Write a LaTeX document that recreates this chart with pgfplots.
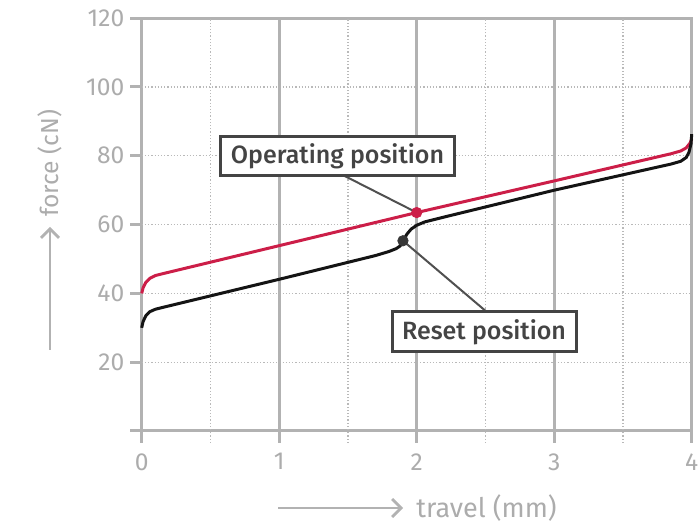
\documentclass[border=0pt]{standalone}
\usepackage{fontspec}
\setmainfont{Fira Sans}
\newfontfamily\medfont{Fira Sans Medium}
\usepackage{pgfplots}
\pgfplotsset{compat=1.18}
\usetikzlibrary{arrows.meta}

\definecolor{axisgray}{RGB}{178,178,178}
\definecolor{labgray}{RGB}{172,172,172}
\definecolor{dotgray}{RGB}{185,185,185}
\definecolor{curvered}{RGB}{204,30,72}
\definecolor{curveblack}{RGB}{20,20,20}
\definecolor{boxgray}{RGB}{68,68,68}
\definecolor{leadgray}{RGB}{80,80,80}

\begin{document}
\begin{tikzpicture}
\path[use as bounding box] (0,0) rectangle (350pt,262pt);

\begin{axis}[
    at={(70.85pt,46.5pt)}, anchor=south west,
    scale only axis,
    width=275pt, height=206.4pt,
    xmin=0, xmax=4, ymin=0, ymax=120,
    xtick={0,1,2,3,4},
    ytick={0,20,40,60,80,100,120},
    yticklabels={{},20,40,60,80,100,120},
    major tick length=0pt,
    tick pos=left,
    axis line style={axisgray, line width=1.5pt},
    tick label style={font=\fontsize{12.3}{14}\selectfont, labgray},
    xticklabel style={anchor=north, inner sep=0pt, yshift=-11pt},
    yticklabel style={anchor=east, inner sep=0pt, xshift=-8.5pt},
    /pgf/number format/assume math mode=true,
    clip=false,
]
% grid lines
\draw[dotgray, line width=0.6pt, densely dotted] (axis cs:0,20) -- (axis cs:4,20);
\draw[dotgray, line width=0.6pt, densely dotted] (axis cs:0,40) -- (axis cs:4,40);
\draw[dotgray, line width=0.6pt, densely dotted] (axis cs:0,60) -- (axis cs:4,60);
\draw[dotgray, line width=0.6pt, densely dotted] (axis cs:0,80) -- (axis cs:4,80);
\draw[dotgray, line width=0.6pt, densely dotted] (axis cs:0,100) -- (axis cs:4,100);
\draw[dotgray, line width=0.6pt, densely dotted] (axis cs:0.5,0) ++(0,-6pt) -- (axis cs:0.5,120);
\draw[dotgray, line width=0.6pt, densely dotted] (axis cs:1.5,0) ++(0,-6pt) -- (axis cs:1.5,120);
\draw[dotgray, line width=0.6pt, densely dotted] (axis cs:2.5,0) ++(0,-6pt) -- (axis cs:2.5,120);
\draw[dotgray, line width=0.6pt, densely dotted] (axis cs:3.5,0) ++(0,-6pt) -- (axis cs:3.5,120);
\draw[axisgray, line width=1.5pt] (axis cs:1,0) ++(0,-6pt) -- (axis cs:1,120);
\draw[axisgray, line width=1.5pt] (axis cs:2,0) ++(0,-6pt) -- (axis cs:2,120);
\draw[axisgray, line width=1.5pt] (axis cs:3,0) ++(0,-6pt) -- (axis cs:3,120);
% tick marks
\draw[axisgray, line width=1.5pt] (axis cs:0,0) -- ++(0,-6pt);
\draw[axisgray, line width=1.5pt] (axis cs:4,0) -- ++(0,-6pt);
\draw[axisgray, line width=1.5pt] (axis cs:0,0) -- ++(-6pt,0);
\draw[axisgray, line width=1.5pt] (axis cs:0,20) -- ++(-6pt,0);
\draw[axisgray, line width=1.5pt] (axis cs:0,40) -- ++(-6pt,0);
\draw[axisgray, line width=1.5pt] (axis cs:0,60) -- ++(-6pt,0);
\draw[axisgray, line width=1.5pt] (axis cs:0,80) -- ++(-6pt,0);
\draw[axisgray, line width=1.5pt] (axis cs:0,100) -- ++(-6pt,0);
\draw[axisgray, line width=1.5pt] (axis cs:0,120) -- ++(-6pt,0);

% leader lines
\draw[leadgray, line width=1pt] (axis cs:1.463,74.4) -- (axis cs:2,63.5);
\draw[leadgray, line width=1pt] (axis cs:2.51,34.6) -- (axis cs:1.9,55.3);

% operating curve
\addplot[curvered, line width=1.5pt, line join=round] coordinates {
 (0,40) (0.01,41.6) (0.03,43.2) (0.06,44.4) (0.1,45.2) (0.15,45.7)
 (2,63.5) (3,72.7) (3.85,80.6) (3.92,81.4) (3.96,82.3) (3.99,83.8) (4,85)
};
% reset curve
\addplot[curveblack, line width=1.5pt, line join=round] coordinates {
 (0,30) (0.01,31.8) (0.03,33.5) (0.06,34.7) (0.1,35.4) (0.15,35.9)
 (1,44.1) (1.7,51) (1.8,52.2) (1.85,53) (1.88,53.8) (1.9,55.3)
 (1.93,57.3) (1.96,58.7) (2.0,59.8) (2.06,60.8) (2.12,61.4) (2.2,62.2)
 (3,70) (3.85,77.6) (3.92,78.4) (3.96,79.5) (3.98,81) (3.995,83.5) (4,86.3)
};
% points
\addplot[only marks, mark=*, mark size=2.6pt, curvered] coordinates {(2,63.5)};
\addplot[only marks, mark=*, mark size=2.6pt, curveblack!85] coordinates {(1.9,55.3)};

% label boxes
\node[draw=boxgray, line width=1.5pt, fill=white, text=boxgray,
      font=\medfont\fontsize{12.5}{14}\selectfont, inner xsep=5pt,
      minimum height=19pt] at (axis cs:1.424,79.9) {Operating position};
\node[draw=boxgray, line width=1.5pt, fill=white, text=boxgray,
      font=\medfont\fontsize{12.5}{14}\selectfont, inner xsep=5pt,
      minimum height=20pt] at (axis cs:2.49,28.8) {Reset position};
\end{axis}

% axis labels with arrows
\draw[axisgray, line width=1.4pt, -{Straight Barb[length=4.5pt,width=9pt]}] (25pt,87pt) -- (25pt,148.5pt);
\node[rotate=90, anchor=west, inner sep=0pt, labgray, font=\fontsize{12.3}{14}\selectfont] at (25pt,153.5pt) {force (cN)};
\draw[axisgray, line width=1.4pt, -{Straight Barb[length=4.5pt,width=9pt]}] (139pt,8pt) -- (201.5pt,8pt);
\node[anchor=west, inner sep=0pt, labgray, font=\fontsize{13.5}{15}\selectfont] at (208pt,8pt) {travel (mm)};
\end{tikzpicture}
\end{document}
